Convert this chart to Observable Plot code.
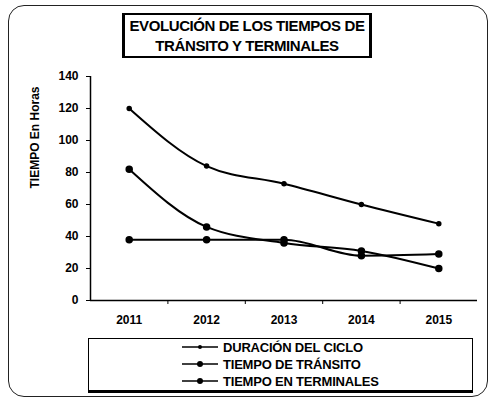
<!DOCTYPE html>
<html><head><meta charset="utf-8">
<script src="https://cdn.jsdelivr.net/npm/d3@7"></script>
<script src="https://cdn.jsdelivr.net/npm/@observablehq/plot@0.6"></script>
<style>
body{margin:0;background:#fff;font-family:"Liberation Sans",Arial,sans-serif}
#wrap{position:relative;width:492px;height:401px;overflow:hidden}
#frame{position:absolute;left:8px;top:5px;width:480px;height:392px;border:1.5px solid #222;border-radius:16px;box-sizing:border-box;pointer-events:none}
#title{position:absolute;left:122px;top:13px;width:250px;height:45px;box-sizing:border-box;border-style:solid;border-color:#000;border-width:2px 3px 2px 3px;font-weight:bold;font-size:15px;text-align:center;line-height:20px;padding-top:1px;letter-spacing:-0.4px;color:#000;background:#fff}
#legend{position:absolute;left:88px;top:338px;width:385px;height:55px;box-sizing:border-box;border:1.5px solid #000;border-bottom-width:3px;background:#fff}
.item{position:absolute;left:93px;height:16px;display:flex;align-items:center;font-weight:bold;font-size:13px;letter-spacing:-0.2px;color:#000}
.item svg{margin-right:5px}
#chart{position:absolute;left:0;top:0}
</style></head>
<body>
<div id="wrap">
<div id="chart"></div>
<div id="frame"></div>
<div id="title">EVOLUCIÓN DE LOS TIEMPOS DE<br>TRÁNSITO Y TERMINALES</div>
<div id="legend"></div>
</div>
<script>
const years = [2011, 2012, 2013, 2014, 2015];
const duracion = [120, 84, 73, 60, 48];
const transito = [82, 46, 36, 31, 20];
const terminales = [38, 38, 38, 28, 29];
const seriesNames = ["DURACIÓN DEL CICLO", "TIEMPO DE TRÁNSITO", "TIEMPO EN TERMINALES"];
const seriesValues = [duracion, transito, terminales];
const markerR = [2, 3, 3];
const yTicks = [0, 20, 40, 60, 80, 100, 120, 140];

const rows = [];
seriesNames.forEach((s, i) => years.forEach((y, j) => rows.push({series: s, year: y, value: seriesValues[i][j], r: markerR[i]})));
const bounds = d3.range(years[0] + 0.5, years[years.length - 1], 1);

const chart = Plot.plot({
  width: 492, height: 401,
  marginLeft: 90, marginRight: 15, marginTop: 76, marginBottom: 101,
  style: {fontFamily: "Liberation Sans, Arial, sans-serif", fontSize: "12px", fontWeight: "bold", color: "#000", background: "transparent"},
  x: {domain: [years[0] - 0.5, years[years.length - 1] + 0.5]},
  y: {domain: [0, 140]},
  marks: [
    Plot.ruleX([years[0] - 0.5], {y1: 0, y2: 140, stroke: "#000", strokeWidth: 1.5}),
    Plot.ruleY([0], {x1: years[0] - 0.5, x2: years[years.length - 1] + 0.5, stroke: "#000", strokeWidth: 1.5}),
    Plot.axisY({ticks: yTicks, tickSize: 4, tickPadding: 8, label: null, fontSize: 12, fontWeight: "bold"}),
    Plot.text(["TIEMPO En Horas"], {frameAnchor: "left", dx: -55, rotate: -90, fontSize: 12, fontWeight: "bold", fill: "#000"}),
    Plot.axisX({ticks: bounds, tickSize: 4, tickFormat: () => "", label: null}),
    Plot.axisX({ticks: years, tickSize: 0, tickPadding: 15, tickFormat: d => String(d), label: null, fontSize: 12, fontWeight: "bold"}),
    Plot.line(rows, {x: "year", y: "value", z: "series", stroke: "#000", strokeWidth: 2, curve: "monotone-x"}),
    Plot.dot(rows, {x: "year", y: "value", r: "r", fill: "#000", stroke: "#000"})
  ],
  r: {type: "identity"}
});
document.getElementById("chart").appendChild(chart);

const legend = document.getElementById("legend");
seriesNames.forEach((s, i) => {
  const d = document.createElement("div");
  d.className = "item";
  d.style.top = (0 + i * 17) + "px";
  d.innerHTML = `<svg width="36" height="10"><line x1="0" y1="5" x2="36" y2="5" stroke="#000" stroke-width="1.5"/><circle cx="18" cy="5" r="${markerR[i]}" fill="#000"/></svg>` + s;
  legend.appendChild(d);
});
</script>
</body></html>
